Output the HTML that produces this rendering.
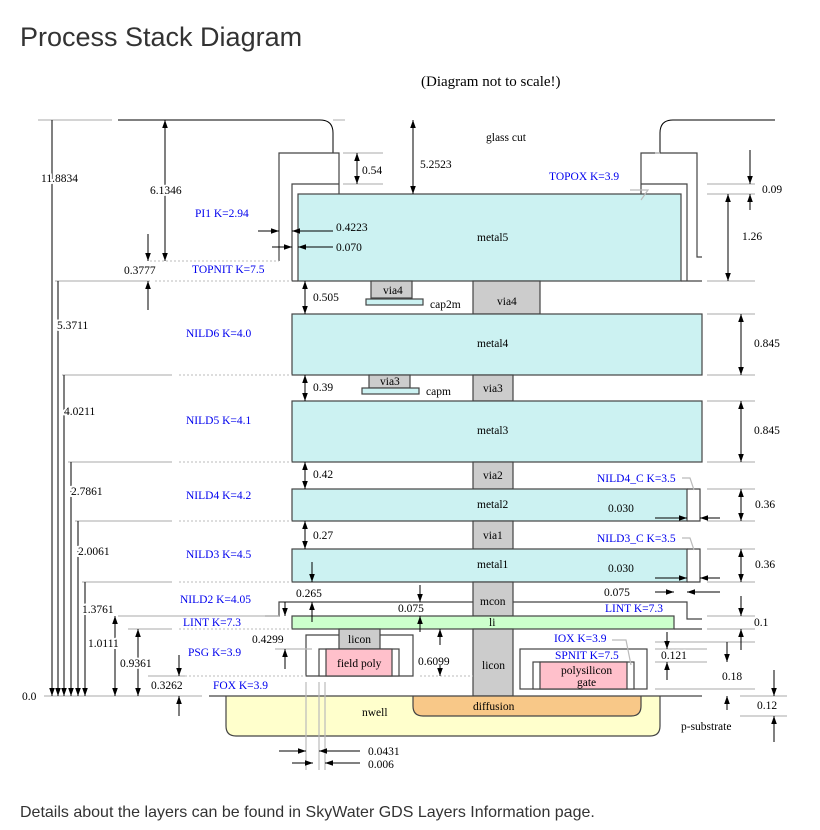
<!DOCTYPE html>
<html><head><meta charset="utf-8"><style>
html,body{margin:0;padding:0;background:#fff;width:820px;height:830px;overflow:hidden}
svg{position:absolute;left:0;top:0}
.t{font-family:"Liberation Serif",serif;font-size:11.5px;fill:#000}
.w{stroke:#fff;stroke-width:4px;paint-order:stroke;stroke-linejoin:round}
.b{font-family:"Liberation Serif",serif;font-size:11.5px;fill:#0000ee}
.g{stroke:#bbb;stroke-width:1.2;fill:none}
.d{stroke:#bbb;stroke-width:1;stroke-dasharray:2,2;fill:none}
.k{stroke:#000;stroke-width:1;fill:none}
.o{stroke:#444;stroke-width:1.2}
</style></head><body>
<svg width="820" height="830" viewBox="0 0 820 830">
<defs>
<marker id="a" viewBox="0 0 10 10" refX="10" refY="5" markerWidth="8" markerHeight="8" orient="auto-start-reverse" markerUnits="userSpaceOnUse"><path d="M0,1.5 L10,5 L0,8.5 z" fill="#000"/></marker>
</defs>
<text x="20" y="46" style="font-family:'Liberation Sans',sans-serif;font-size:27px;fill:#333;font-weight:300">Process Stack Diagram</text>
<text x="20" y="817" style="font-family:'Liberation Sans',sans-serif;font-size:16px;fill:#333">Details about the layers can be found in SkyWater GDS Layers Information page.</text>
<text x="421" y="86" style="font-family:'Liberation Serif',serif;font-size:15px">(Diagram not to scale!)</text>

<path class="g" d="M38,120 H112"/>
<path class="k" d="M118,120 H320 Q333,120 333,133 V153" stroke="#444"/>
<path class="k" d="M660,153 V133 Q660,120 673,120 H775" stroke="#444"/>
<path class="g" d="M333,120 H345"/>
<path class="o" fill="none" d="M279,261 V153 H339 V194"/>
<path class="d" d="M150,261 H279"/>
<path class="o" fill="none" d="M292,281 V184 H339"/>
<path class="o" fill="none" d="M641,194 V153 H697 V257 H702"/>
<path class="o" fill="none" d="M641,184 H687 V281"/>
<path class="o" fill="none" d="M681,281 H702"/>
<rect x="298" y="194" width="383" height="87" fill="#ccf2f2" class="o"/>
<path class="o" d="M292,281 H298"/>
<text class="t" x="477" y="241">metal5</text>
<rect x="371" y="281" width="41" height="17" fill="#ccc" class="o"/><text class="t" x="383" y="294">via4</text>
<rect x="366" y="299" width="57" height="6" fill="#ccf2f2" class="o"/><text class="t" x="430" y="308">cap2m</text>
<rect x="473" y="281" width="67" height="33" fill="#ccc" class="o"/><text class="t" x="497" y="305">via4</text>
<rect x="292" y="314" width="410" height="61" fill="#ccf2f2" class="o"/><text class="t" x="477" y="347">metal4</text>
<rect x="369" y="375" width="41" height="13" fill="#ccc" class="o"/><text class="t" x="380" y="385">via3</text>
<rect x="362" y="388" width="57" height="6" fill="#ccf2f2" class="o"/><text class="t" x="426" y="395">capm</text>
<rect x="473" y="375" width="40" height="26" fill="#ccc" class="o"/><text class="t" x="483" y="392">via3</text>
<rect x="292" y="401" width="410" height="61" fill="#ccf2f2" class="o"/><text class="t" x="477" y="434">metal3</text>
<rect x="473" y="462" width="40" height="27" fill="#ccc" class="o"/><text class="t" x="483" y="479">via2</text>
<rect x="292" y="489" width="395" height="32" fill="#ccf2f2" class="o"/><text class="t" x="477" y="508">metal2</text>
<path class="o" fill="none" d="M687,489 H700 V521 H687"/>
<rect x="473" y="521" width="40" height="28" fill="#ccc" class="o"/><text class="t" x="483" y="539">via1</text>
<rect x="292" y="549" width="395" height="33" fill="#ccf2f2" class="o"/><text class="t" x="477" y="568">metal1</text>
<path class="o" fill="none" d="M687,549 H700 V582 H687"/>
<rect x="473" y="582" width="40" height="34" fill="#ccc" class="o"/><text class="t" x="480" y="605">mcon</text>
<path class="o" fill="none" d="M265,616 H279 V602 H473 M513,602 H687 V619 H702"/>
<rect x="292" y="616" width="382" height="13" fill="#ccffcc" class="o"/><text class="t" x="489" y="626">li</text>
<path class="o" fill="none" d="M674,629 H702"/>
<rect x="473" y="629" width="40" height="67" fill="#ccc" class="o"/><text class="t" x="482" y="669">licon</text>
<path class="o" fill="none" d="M306,676 V635 H413 V676 Z"/>
<rect x="339" y="629" width="41" height="20" fill="#ccc" class="o"/><text class="t" x="348" y="643">licon</text>
<rect x="319" y="649" width="80" height="27" fill="#fff" class="o"/>
<rect x="326" y="649" width="66" height="27" fill="#ffc0cb" class="o"/><text class="t" x="337" y="667">field poly</text>
<rect x="520" y="649" width="127" height="40" fill="#fff" class="o"/>
<rect x="533" y="662" width="101" height="27" fill="#fff" class="o"/>
<rect x="540" y="662" width="87" height="27" fill="#ffc0cb" class="o"/>
<text class="t" x="561" y="674">polysilicon</text><text class="t" x="577" y="686">gate</text>
<path d="M226,696 V726 Q226,736 236,736 H650 Q660,736 660,726 V696" fill="#ffffcc" class="o"/>
<path d="M413,696 V706 Q413,716 423,716 H631 Q641,716 641,706 V696" fill="#f8c888" class="o"/>
<text class="t" x="362" y="716">nwell</text><text class="t" x="473" y="710">diffusion</text>
<path class="o" d="M209,696 H702"/>
<path class="g" d="M44,696 H202"/>
<text class="t" x="22" y="700">0.0</text>
<text class="t" x="681" y="730">p-substrate</text>

<path class="g" d="M55,281 H150 M62,375 H172 M68,462 H172 M75,521 H172 M82,582 H172 M118,616 H265 M128,629 H172 M148,676 H185 M655,153 H660 M343,153 H383 M343,184 H383 M707,184 H755 M707,194 H755 M707,281 H755 M707,314 H755 M707,375 H755 M707,401 H755 M707,462 H755 M707,489 H755 M707,521 H755 M707,549 H755 M707,582 H755 M707,616 H755 M707,629 H755 M655,649 H707 M655,662 H707 M655,642 H755 M655,689 H755 M740,696 H787 M740,716 H787"/>
<path class="d" d="M155,281 H292 M179,375 H292 M179,462 H292 M179,521 H292 M179,582 H292 M179,629 H292 M185,676 H306 M420,676 H473"/>
<path class="g" d="M275,649 H312 M306,682 V770 M319,682 V770 M325,682 V770 M265,616 H279"/>

<g class="k" marker-end="url(#a)">
<path d="M52,120 V696"/><path d="M58,281 V696"/><path d="M64,375 V696"/><path d="M71,462 V696"/><path d="M78,521 V696"/><path d="M85,582 V696"/>
<path d="M115,616 V696" marker-start="url(#a)"/><path d="M138,629 V696" marker-start="url(#a)"/>
<path d="M165,120 V261" marker-start="url(#a)"/>
<path d="M148,234 V261"/><path d="M148,310 V281"/>
<path d="M179,655 V676"/><path d="M179,716 V696"/>
<path d="M357,153 V184" marker-start="url(#a)"/>
<path d="M413,120 V194" marker-start="url(#a)"/>
<path d="M258,231 H279"/><path d="M333,231 H292"/>
<path d="M272,247 H292"/><path d="M333,247 H298"/>
<path d="M305,281 V314" marker-start="url(#a)"/><path d="M305,375 V401" marker-start="url(#a)"/><path d="M305,462 V489" marker-start="url(#a)"/><path d="M305,521 V549" marker-start="url(#a)"/>
<path d="M312,562 V582"/><path d="M312,622 V602"/><path d="M285,602 V616"/><path d="M285,669 V649"/>
<path d="M420,585 V602"/><path d="M420,632 V616"/>
<path d="M440,645 V629"/><path d="M440,665 V676"/>
<path d="M279,751 H306"/><path d="M360,751 H319"/><path d="M292,763 H313"/><path d="M360,763 H325"/>
<path d="M750,150 V184"/><path d="M750,210 V194"/>
<path d="M728,194 V281" marker-start="url(#a)"/>
<path d="M741,314 V375" marker-start="url(#a)"/><path d="M741,401 V462" marker-start="url(#a)"/>
<path d="M741,489 V521" marker-start="url(#a)"/><path d="M741,549 V582" marker-start="url(#a)"/>
<path d="M655,518 H687"/><path d="M720,518 H700"/><path d="M655,578 H687"/><path d="M720,578 H700"/>
<path d="M655,592 H674"/><path d="M720,592 H687"/>
<path d="M741,596 V616"/><path d="M741,650 V629"/>
<path d="M667,632 V649"/><path d="M667,680 V662"/>
<path d="M727,642 V662"/><path d="M727,710 V696"/>
<path d="M774,670 V696"/><path d="M774,742 V716"/>
</g>
<path class="g" d="M641,200 L648,190 H630 M694,490 L690,478 H682 M694,550 L690,538 H682 M631,665 L626,640 H612"/>

<text class="t w" x="41" y="182">11.8834</text><text class="t w" x="150" y="194">6.1346</text><text class="t w" x="124" y="274">0.3777</text>
<text class="t w" x="57" y="329">5.3711</text><text class="t w" x="64" y="415">4.0211</text><text class="t w" x="71" y="495">2.7861</text>
<text class="t w" x="78" y="555">2.0061</text><text class="t w" x="82" y="613">1.3761</text><text class="t w" x="88" y="647">1.0111</text>
<text class="t w" x="120" y="667">0.9361</text><text class="t w" x="151" y="689">0.3262</text>
<text class="t" x="362" y="174">0.54</text><text class="t" x="420" y="168">5.2523</text>
<text class="t" x="336" y="231">0.4223</text><text class="t" x="336" y="251">0.070</text>
<text class="t" x="313" y="301">0.505</text><text class="t" x="313" y="391">0.39</text><text class="t" x="313" y="478">0.42</text><text class="t" x="313" y="539">0.27</text>
<text class="t" x="296" y="597">0.265</text><text class="t" x="398" y="612">0.075</text><text class="t w" x="252" y="643">0.4299</text><text class="t" x="418" y="665">0.6099</text>
<text class="t" x="368" y="755">0.0431</text><text class="t" x="368" y="768">0.006</text>
<text class="t" x="486" y="141">glass cut</text>
<text class="t" x="762" y="193">0.09</text><text class="t w" x="742" y="240">1.26</text><text class="t" x="754" y="347">0.845</text><text class="t" x="754" y="434">0.845</text>
<text class="t" x="755" y="508">0.36</text><text class="t" x="755" y="568">0.36</text>
<text class="t" x="608" y="512">0.030</text><text class="t" x="608" y="572">0.030</text><text class="t" x="604" y="596">0.075</text>
<text class="t" x="754" y="626">0.1</text><text class="t w" x="661" y="659">0.121</text><text class="t w" x="722" y="680">0.18</text><text class="t w" x="757" y="709">0.12</text>
<text class="b" x="195" y="217">PI1 K=2.94</text><text class="b" x="192" y="273">TOPNIT K=7.5</text>
<text class="b" x="549" y="180">TOPOX K=3.9</text>
<text class="b" x="186" y="337">NILD6 K=4.0</text><text class="b" x="186" y="424">NILD5 K=4.1</text><text class="b" x="186" y="499">NILD4 K=4.2</text><text class="b" x="186" y="558">NILD3 K=4.5</text>
<text class="b" x="180" y="603">NILD2 K=4.05</text><text class="b" x="183" y="626">LINT K=7.3</text><text class="b" x="188" y="656">PSG K=3.9</text><text class="b" x="213" y="689">FOX K=3.9</text>
<text class="b" x="597" y="482">NILD4_C K=3.5</text><text class="b" x="597" y="542">NILD3_C K=3.5</text>
<text class="b" x="605" y="612">LINT K=7.3</text><text class="b" x="554" y="642">IOX K=3.9</text><text class="b" x="555" y="659">SPNIT K=7.5</text>
</svg>
</body></html>
